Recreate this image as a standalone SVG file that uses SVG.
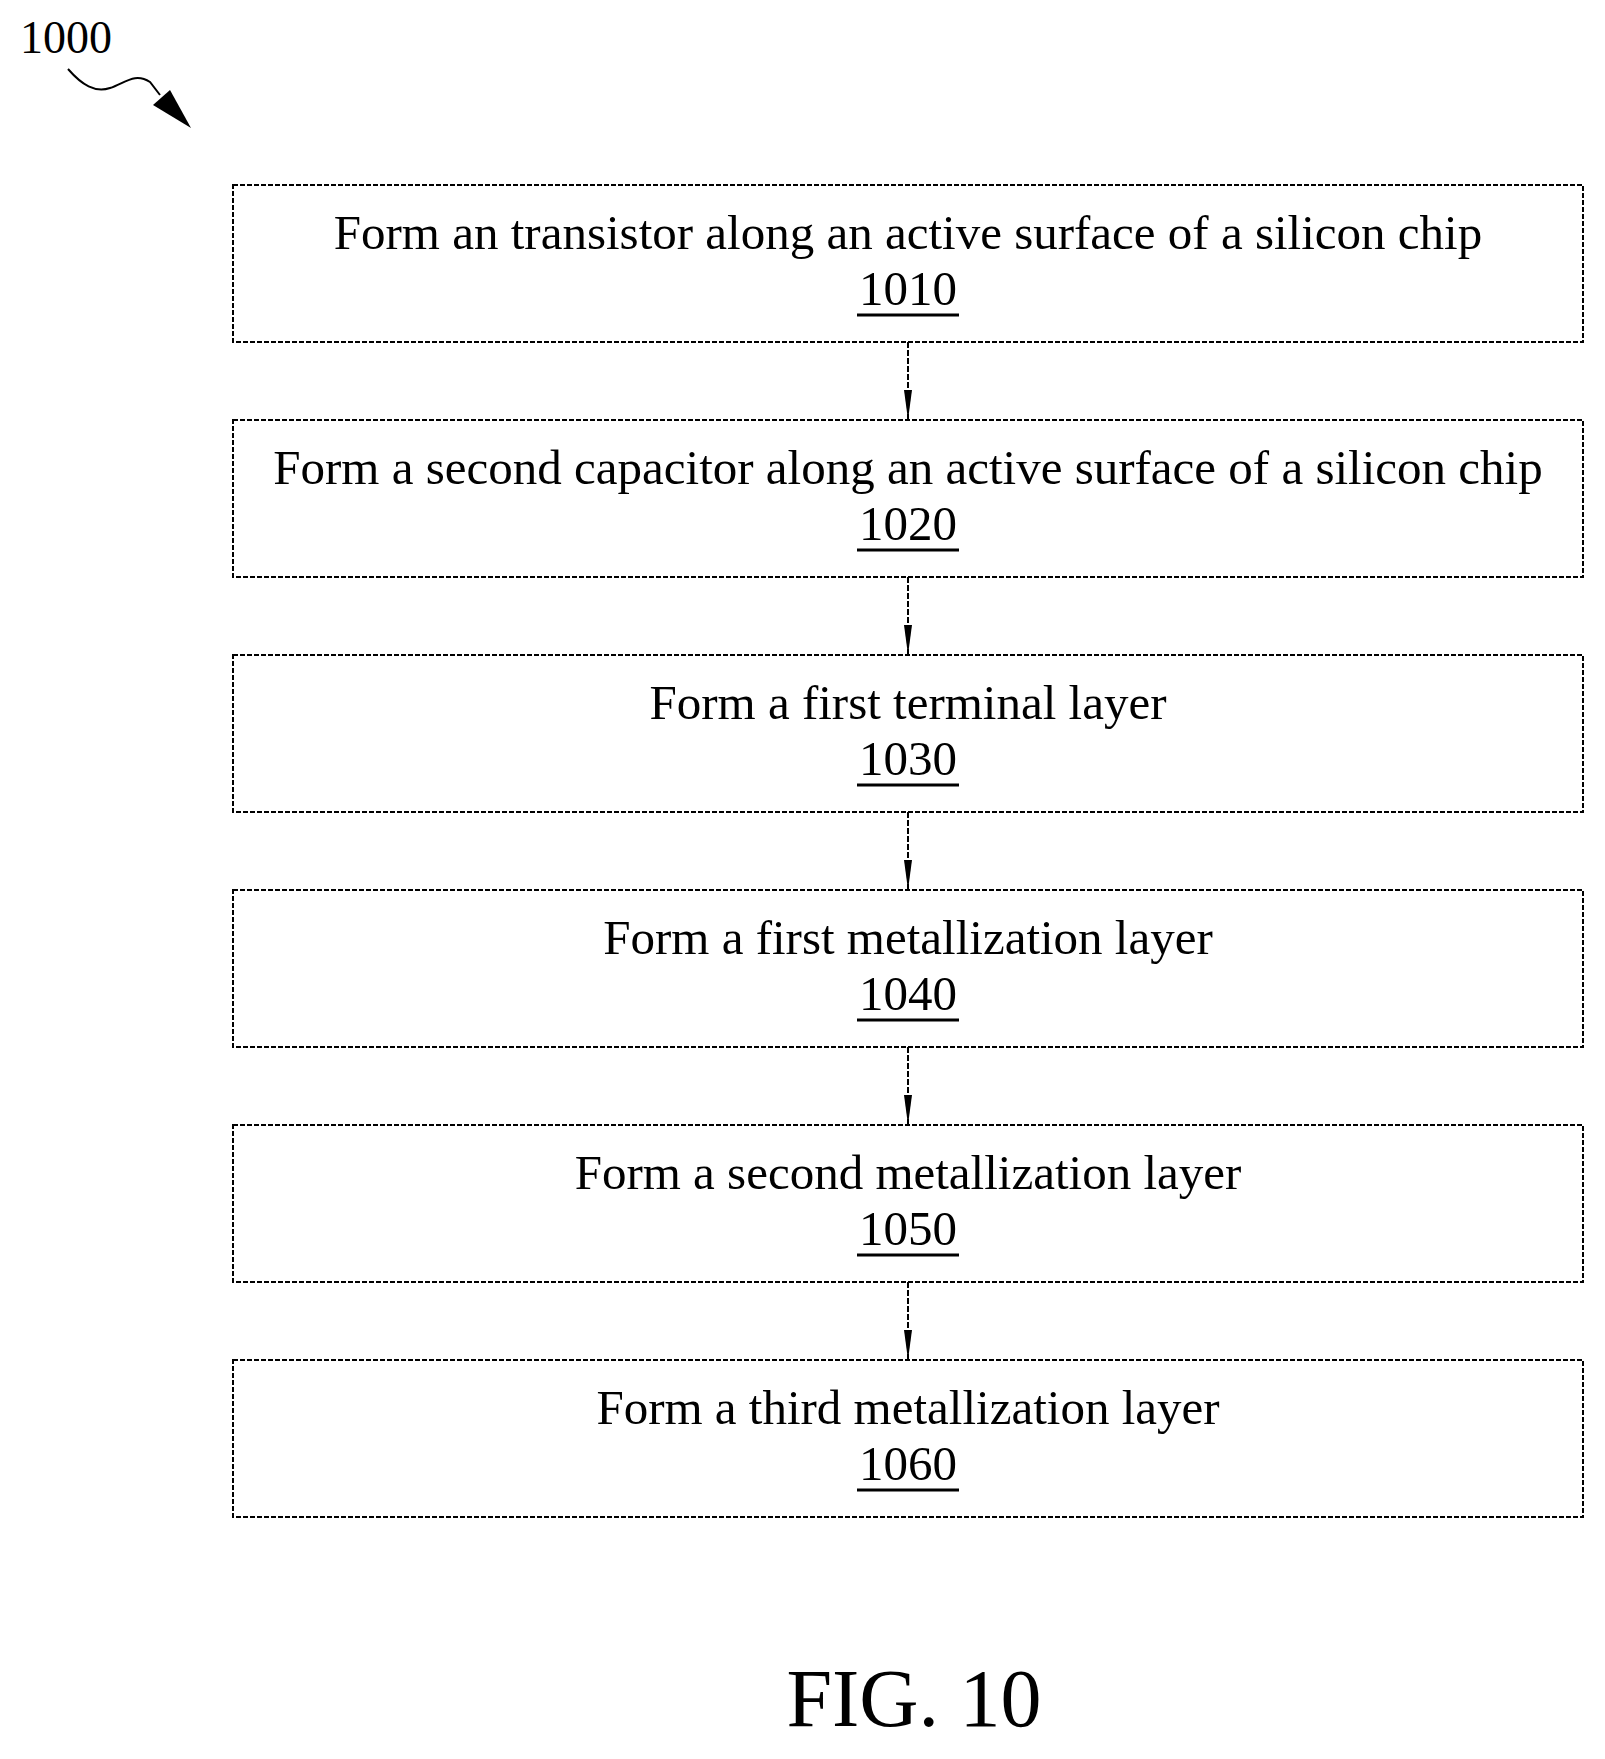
<svg xmlns="http://www.w3.org/2000/svg" width="1605" height="1759" viewBox="0 0 1605 1759">
<style>
.b{fill:#fff;stroke:#000;stroke-width:2;stroke-dasharray:5 2}
.t{font-family:"Liberation Serif",serif;font-size:49px;text-anchor:middle;fill:#000}
.u{stroke:#000;stroke-width:3}
.c{stroke:#000;stroke-width:2;stroke-dasharray:6 2;fill:none}
</style>
<defs><marker id="a" viewBox="0 0 30 10" refX="30" refY="5" markerWidth="30" markerHeight="10" markerUnits="userSpaceOnUse" orient="auto"><path d="M0,1 L30,5 L0,9 z" fill="#000"/></marker></defs>
<rect width="1605" height="1759" fill="#fff"/>
<text x="20" y="53" font-family="Liberation Serif,serif" font-size="46">1000</text>
<path d="M68,69 C82,85 95,93 110,88 C125,83 135,72 150,82 L160,95" fill="none" stroke="#000" stroke-width="2"/>
<path d="M191,128 L153,105 L170,90 z" fill="#000"/>
<g id="n1010"><rect class="b" x="233" y="185" width="1350" height="157"/><text class="t" x="908" y="249">Form an transistor along an active surface of a silicon chip</text><text class="t" x="908" y="305">1010</text><line class="u" x1="857" y1="315" x2="959" y2="315"/></g>
<g id="n1020"><rect class="b" x="233" y="420" width="1350" height="157"/><text class="t" x="908" y="484">Form a second capacitor along an active surface of a silicon chip</text><text class="t" x="908" y="540">1020</text><line class="u" x1="857" y1="550" x2="959" y2="550"/></g>
<g id="n1030"><rect class="b" x="233" y="655" width="1350" height="157"/><text class="t" x="908" y="719">Form a first terminal layer</text><text class="t" x="908" y="775">1030</text><line class="u" x1="857" y1="785" x2="959" y2="785"/></g>
<g id="n1040"><rect class="b" x="233" y="890" width="1350" height="157"/><text class="t" x="908" y="954">Form a first metallization layer</text><text class="t" x="908" y="1010">1040</text><line class="u" x1="857" y1="1020" x2="959" y2="1020"/></g>
<g id="n1050"><rect class="b" x="233" y="1125" width="1350" height="157"/><text class="t" x="908" y="1189">Form a second metallization layer</text><text class="t" x="908" y="1245">1050</text><line class="u" x1="857" y1="1255" x2="959" y2="1255"/></g>
<g id="n1060"><rect class="b" x="233" y="1360" width="1350" height="157"/><text class="t" x="908" y="1424">Form a third metallization layer</text><text class="t" x="908" y="1480">1060</text><line class="u" x1="857" y1="1490" x2="959" y2="1490"/></g>
<g id="connectors">
<line class="c" x1="908" y1="342" x2="908" y2="420" marker-end="url(#a)"/>
<line class="c" x1="908" y1="577" x2="908" y2="655" marker-end="url(#a)"/>
<line class="c" x1="908" y1="812" x2="908" y2="890" marker-end="url(#a)"/>
<line class="c" x1="908" y1="1047" x2="908" y2="1125" marker-end="url(#a)"/>
<line class="c" x1="908" y1="1282" x2="908" y2="1360" marker-end="url(#a)"/>
</g>
<text x="914" y="1726" font-family="Liberation Serif,serif" font-size="82" text-anchor="middle">FIG. 10</text>
</svg>
